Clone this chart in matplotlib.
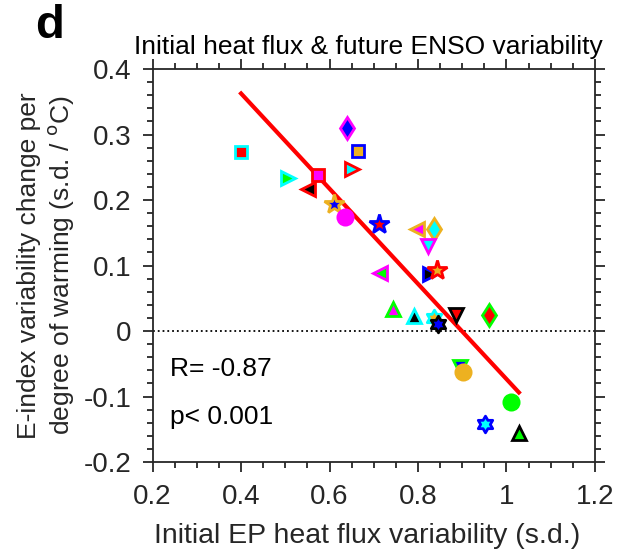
import numpy as np
import matplotlib
matplotlib.use("Agg")
import matplotlib.pyplot as plt
from matplotlib.path import Path
from matplotlib.ticker import MultipleLocator

plt.rcParams['font.family'] = ['Liberation Sans', 'DejaVu Sans']

# model data: initial EP heat flux variability vs change in E-index variability
heat_flux = [0.400, 0.506, 0.574, 0.551, 0.610, 0.635, 0.640, 0.664, 0.651,
             0.712, 0.798, 0.836, 0.823, 0.714, 0.826, 0.843, 0.743, 0.790,
             0.836, 0.845, 0.886, 0.960, 0.895, 0.902, 1.010, 0.951, 1.028]
enso_change = [0.273, 0.234, 0.238, 0.217, 0.194, 0.174, 0.310, 0.275, 0.247,
               0.163, 0.156, 0.156, 0.130, 0.088, 0.087, 0.093, 0.034, 0.023,
               0.020, 0.011, 0.024, 0.024, -0.055, -0.062, -0.109, -0.142, -0.155]

r_text = "R= -0.87"
p_text = "p< 0.001"

# MATLAB-ish colours
red, green, blue = '#ff0000', '#00ff00', '#0000ff'
cyan, magenta, black, orange = '#00ffff', '#ff00ff', '#000000', '#edb120'

# Star of David marker
ang_out = np.deg2rad(90 + 60 * np.arange(6))
ang_in = ang_out + np.deg2rad(30)
verts = []
for ao, ai in zip(ang_out, ang_in):
    verts.append((np.cos(ao), np.sin(ao)))
    verts.append((np.cos(ai) / np.sqrt(3), np.sin(ai) / np.sqrt(3)))
verts.append(verts[0])
hexagram = Path(verts, closed=True)

markers = ['s', '>', 's', '<', '*', 'o', 'd', 's', '>',
           '*', '<', 'd', 'v', '<', '>', '*', '^', '^',
           hexagram, hexagram, 'v', 'd', 'v', 'o', 'o', hexagram, '^']
edges = [cyan, cyan, red, red, orange, magenta, magenta, blue, red,
         blue, orange, orange, magenta, magenta, blue, red, green, cyan,
         cyan, black, black, green, green, orange, green, blue, black]
faces = [red, green, magenta, black, blue, magenta, blue, orange, cyan,
         red, magenta, cyan, cyan, green, black, orange, magenta, black,
         orange, blue, red, red, blue, orange, green, cyan, green]

msize = {'s': 8, '>': 10, '<': 10, '^': 10, 'v': 10, 'o': 11, 'd': 11.5, '*': 15}

fig = plt.figure(figsize=(6.17, 5.52), dpi=100)
ax = fig.add_axes([0.2473, 0.163, 0.717, 0.712])
tc = '#262626'

ax.axhline(0, color='k', ls=':', lw=1.3, zorder=1)

# least-squares fit line across the data range
coef = np.polyfit(heat_flux, enso_change, 1)
xfit = np.array([min(heat_flux), max(heat_flux)])
ax.plot(xfit, np.polyval(coef, xfit), color=red, lw=3, zorder=2)

for x, y, m, ec, fc in zip(heat_flux, enso_change, markers, edges, faces):
    ms = msize.get(m, 12) if isinstance(m, str) else 12
    ax.plot(x, y, marker=m, ms=ms, mec=ec, mfc=fc, mew=2, ls='none', zorder=3)

ax.text(0.24, -0.058, r_text, fontsize=19, color='k', va='center')
ax.text(0.24, -0.131, p_text, fontsize=19, color='k', va='center')

ax.set_xlim(0.2, 1.2)
ax.set_ylim(-0.2, 0.4)
ax.xaxis.set_major_locator(MultipleLocator(0.2))
ax.xaxis.set_minor_locator(MultipleLocator(0.05))
ax.yaxis.set_major_locator(MultipleLocator(0.1))
ax.yaxis.set_minor_locator(MultipleLocator(0.02))
ax.set_xticks([0.2, 0.4, 0.6, 0.8, 1.0, 1.2])
ax.set_xticklabels(['0.2', '0.4', '0.6', '0.8', '1', '1.2'])
ax.set_yticks([-0.2, -0.1, 0, 0.1, 0.2, 0.3, 0.4])
ax.set_yticklabels(['-0.2', '-0.1', '0', '0.1', '0.2', '0.3', '0.4'])
ax.tick_params(which='both', direction='out', top=True, right=True,
               colors=tc, labelsize=20, width=1.3)
ax.tick_params(which='major', length=7)
ax.tick_params(axis='x', which='major', pad=9)
ax.tick_params(axis='y', which='major', pad=8)
ax.tick_params(which='minor', length=4)
for s in ax.spines.values():
    s.set_color(tc)
    s.set_linewidth(1.3)

ax.set_xlabel('Initial EP heat flux variability (s.d.)', fontsize=20.5, color=tc, labelpad=11)
ax.xaxis.set_label_coords(0.484, -0.155)
ax.set_ylabel('E-index variability change per\ndegree of warming (s.d. / $^{\\rm o}$C)',
              fontsize=19, color=tc, labelpad=6)
ax.set_title('Initial heat flux & future ENSO variability', fontsize=19, color='k',
             pad=11, x=0.487)
fig.text(0.057, 0.953, 'd', fontsize=34, fontweight='bold', color='k', va='center')

fig.savefig('out.png', dpi=100)
